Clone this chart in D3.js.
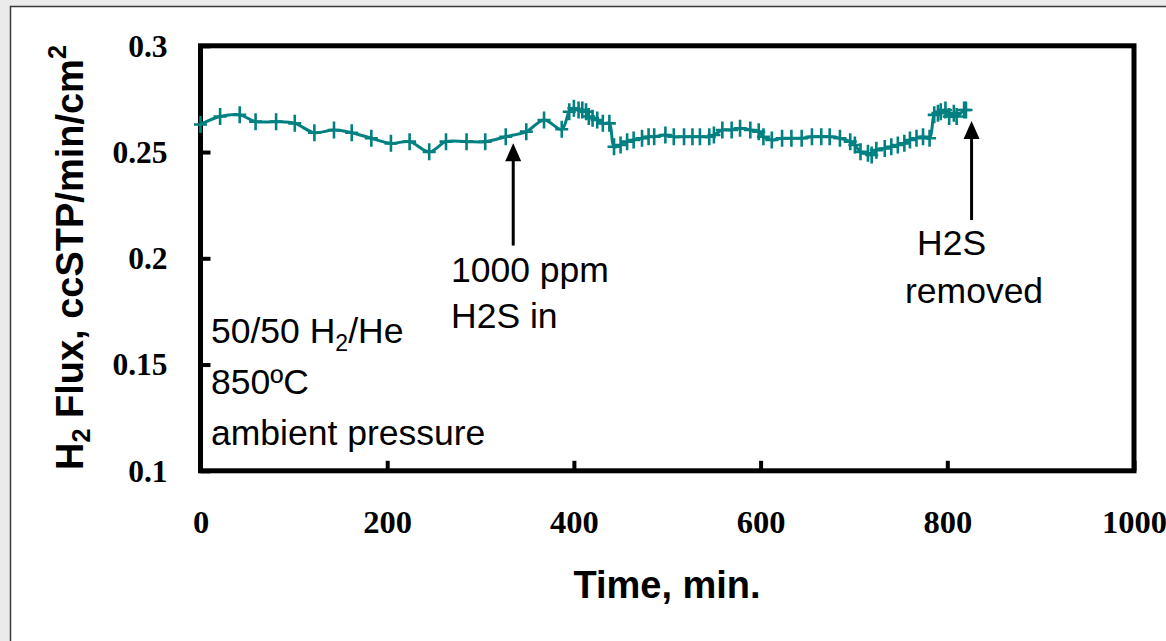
<!DOCTYPE html>
<html>
<head>
<meta charset="utf-8">
<script src="https://cdn.jsdelivr.net/npm/d3@7"></script>
<style>
  html, body { margin: 0; padding: 0; background: #ebebeb; }
  svg { display: block; }
</style>
</head>
<body>
<svg id="chart" width="1166" height="641"></svg>
<script>
// ---- data (time in min, H2 flux in ccSTP/min/cm2) ----
const times = [0, 21, 42, 59, 81, 101, 122, 143, 162, 183, 204, 224, 245, 263, 285, 305, 327, 349, 368, 387,
  395, 400, 405, 409, 413, 416, 420, 425, 431, 438, 443, 450, 457, 464, 473, 480, 486, 498, 507, 518,
  527, 535, 545, 550, 559, 569, 578, 589, 598, 603, 612, 623, 633, 644, 655, 665, 674, 685, 696, 701,
  707, 715, 719, 724, 733, 740, 747, 754, 760, 767, 774, 781, 786, 790, 793, 798, 802, 807, 810, 818, 820];
const flux = [0.2630, 0.2667, 0.2675, 0.2643, 0.2643, 0.2635, 0.2591, 0.2604, 0.2591, 0.2565, 0.2541, 0.2549, 0.2501, 0.2549, 0.2549, 0.2549, 0.2572, 0.2596, 0.2651, 0.2607,
  0.2690, 0.2706, 0.2698, 0.2698, 0.2690, 0.2667, 0.2659, 0.2651, 0.2635, 0.2635, 0.2525, 0.2533, 0.2549, 0.2557, 0.2565, 0.2572, 0.2572, 0.2580, 0.2572, 0.2572,
  0.2572, 0.2572, 0.2572, 0.2580, 0.2604, 0.2604, 0.2612, 0.2604, 0.2596, 0.2572, 0.2557, 0.2565, 0.2565, 0.2565, 0.2572, 0.2572, 0.2572, 0.2565, 0.2549, 0.2533,
  0.2501, 0.2494, 0.2486, 0.2509, 0.2517, 0.2525, 0.2533, 0.2541, 0.2557, 0.2565, 0.2572, 0.2565, 0.2675, 0.2683, 0.2690, 0.2698, 0.2667, 0.2683, 0.2667, 0.2698, 0.2698];

const xTicks = [0, 200, 400, 600, 800, 1000];
const yTicks = [0.1, 0.15, 0.2, 0.25, 0.3];
const yTickLabels = ["0.1", "0.15", "0.2", "0.25", "0.3"];

// annotations: arrow x (min), arrow tip / tail (flux units)
const arrowTimes = [335, 826];
const arrowTips = [0.2542, 0.2646];
const arrowTails = [0.2060, 0.2180];
const noteLines = [["1000 ppm", "H2S in"], ["H2S", "removed"]];
const conditions = ["50/50 H|2|/He", "850ºC", "ambient pressure"];

// ---- layout ----
const svg = d3.select("#chart");
const L = 200.5, R = 1134, T = 45.8, B = 470.8;
const x = d3.scaleLinear().domain([0, 1000]).range([L, R]);
const y = d3.scaleLinear().domain([0.1, 0.3]).range([B, T]);
const teal = "#008080";

// outer panel
svg.append("rect").attr("x", 10.5).attr("y", 6.5).attr("width", 1200).attr("height", 700)
  .attr("fill", "#fff").attr("stroke", "#3a3a3a").attr("stroke-width", 1.5);

// axes
const yAxis = d3.axisLeft(y).tickValues(yTicks).tickSizeInner(-10).tickSizeOuter(0)
  .tickFormat((d, i) => yTickLabels[i]);
const gy = svg.append("g").attr("transform", `translate(${L},0)`).call(yAxis);
gy.select(".domain").remove();
gy.selectAll(".tick line").attr("stroke", "#000").attr("stroke-width", 4);
gy.selectAll(".tick text").attr("x", -33).attr("dy", "0.33em")
  .attr("font-family", "'Liberation Serif', 'Times New Roman', serif")
  .attr("font-weight", "bold").attr("font-size", 31.5).attr("fill", "#000");

const xAxis = d3.axisBottom(x).tickValues(xTicks).tickSizeInner(-10).tickSizeOuter(0)
  .tickFormat(d3.format("d"));
const gx = svg.append("g").attr("transform", `translate(0,${B})`).call(xAxis);
gx.select(".domain").remove();
gx.selectAll(".tick line").attr("stroke", "#000").attr("stroke-width", 4);
gx.selectAll(".tick text").attr("y", 62).attr("dy", 0)
  .attr("font-family", "'Liberation Serif', 'Times New Roman', serif")
  .attr("font-weight", "bold").attr("font-size", 32.5).attr("fill", "#000");

// frame
svg.append("rect").attr("x", L).attr("y", T).attr("width", R - L).attr("height", B - T)
  .attr("fill", "none").attr("stroke", "#000").attr("stroke-width", 5);

// data line
const pts = times.map((t, i) => [t, flux[i]]);
const line = d3.line().x(d => x(d[0])).y(d => y(d[1])).curve(d3.curveCatmullRom.alpha(0.5));
svg.append("path").datum(pts).attr("d", line).attr("fill", "none")
  .attr("stroke", teal).attr("stroke-width", 3).attr("stroke-linejoin", "round");

// markers "+"
const mk = svg.append("g").attr("stroke", teal).attr("stroke-width", 2.6).attr("fill", "none");
mk.selectAll("path").data(pts).join("path")
  .attr("d", d => {
    const cx = x(d[0]), cy = y(d[1]);
    return `M${cx - 6.5},${cy}H${cx + 6.5}M${cx},${cy - 8.5}V${cy + 8.5}`;
  });

// arrows
arrowTimes.forEach((t, i) => {
  const ax = x(t), tip = y(arrowTips[i]), tail = y(arrowTails[i]);
  svg.append("line").attr("x1", ax).attr("x2", ax).attr("y1", tip + 14).attr("y2", tail)
    .attr("stroke", "#000").attr("stroke-width", 3);
  svg.append("path").attr("d", `M${ax},${tip}L${ax - 8},${tip + 18}L${ax + 8},${tip + 18}Z`)
    .attr("fill", "#000");
});

const sans = "'Liberation Sans', Arial, sans-serif";
// annotation texts
const n1 = svg.append("g").attr("font-family", sans).attr("font-size", 35.5).attr("fill", "#000");
n1.append("text").attr("x", 451).attr("y", 282).text(noteLines[0][0]);
n1.append("text").attr("x", 451).attr("y", 328).text(noteLines[0][1]);
n1.append("text").attr("x", 917).attr("y", 255).text(noteLines[1][0]);
n1.append("text").attr("x", 905).attr("y", 303).text(noteLines[1][1]);

// conditions box text
conditions.forEach((c, i) => {
  const t = n1.append("text").attr("x", 211).attr("y", 343 + i * 51);
  const parts = c.split("|");
  if (parts.length === 1) { t.text(c); return; }
  t.append("tspan").text(parts[0]);
  t.append("tspan").attr("font-size", 23).attr("dy", 8).text(parts[1]);
  t.append("tspan").attr("dy", -8).text(parts[2]);
});

// axis titles
svg.append("text").attr("x", 667).attr("y", 598).attr("text-anchor", "middle")
  .attr("font-family", sans).attr("font-weight", "bold").attr("font-size", 38)
  .text("Time, min.");

const yt = svg.append("text").attr("transform", "translate(83,470) rotate(-90)")
  .attr("font-family", sans).attr("font-weight", "bold").attr("font-size", 38);
yt.append("tspan").text("H");
yt.append("tspan").attr("font-size", 25).attr("dy", 7).text("2");
yt.append("tspan").attr("dy", -7).text(" Flux,  ccSTP/min/cm");
yt.append("tspan").attr("font-size", 25).attr("dy", -17).text("2");
</script>
</body>
</html>
